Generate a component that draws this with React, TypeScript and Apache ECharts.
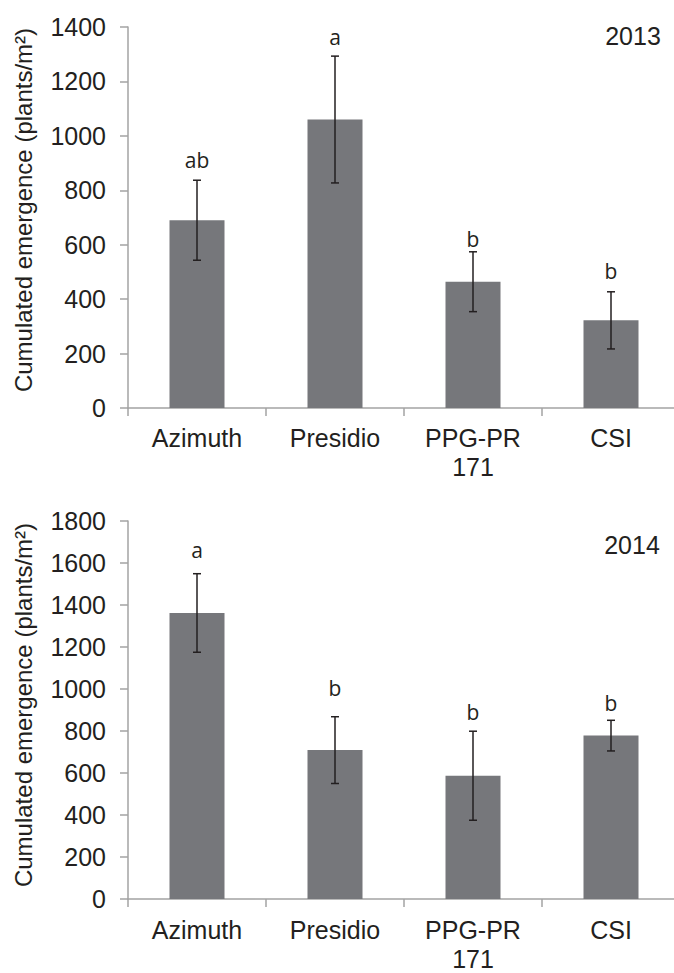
import React, { useEffect, useRef } from "react";
import * as echarts from "echarts";

const categories = ["Azimuth", "Presidio", "PPG-PR\n171", "CSI"];

const mean2013 = [690, 1060, 464, 322];
const err2013 = [147, 233, 110, 105];
const letters2013 = ["ab", "a", "b", "b"];
const letterPos2013 = [911, 1363, 621, 503];

const mean2014 = [1362, 709, 587, 778];
const err2014 = [187, 159, 212, 73];
const letters2014 = ["a", "b", "b", "b"];
const letterPos2014 = [1664, 1005, 891, 934];

const yTicks2013 = { min: 0, max: 1400, interval: 200 };
const yTicks2014 = { min: 0, max: 1800, interval: 200 };

const FONT = "'Liberation Sans', Arial, sans-serif";
const TXT = "#231f20";
const AXIS = "#a3a3a3";
const BAR = "#76777b";

function errorSeries(gi: number, means: number[], errs: number[]) {
  return {
    type: "custom",
    xAxisIndex: gi,
    yAxisIndex: gi,
    z: 5,
    data: means.map((m, i) => [i, m, errs[i]]),
    renderItem: (params: any, api: any) => {
      const i = api.value(0);
      const m = api.value(1);
      const e = api.value(2);
      const top = api.coord([i, m + e]);
      const bot = api.coord([i, m - e]);
      const hw = 4;
      const st = { stroke: TXT, lineWidth: 1.5 };
      return {
        type: "group",
        children: [
          { type: "line", shape: { x1: top[0], y1: top[1], x2: bot[0], y2: bot[1] }, style: st },
          { type: "line", shape: { x1: top[0] - hw, y1: top[1], x2: top[0] + hw, y2: top[1] }, style: st },
          { type: "line", shape: { x1: bot[0] - hw, y1: bot[1], x2: bot[0] + hw, y2: bot[1] }, style: st },
        ],
      };
    },
  };
}

function letterSeries(gi: number, pos: number[], letters: string[]) {
  return {
    type: "custom",
    xAxisIndex: gi,
    yAxisIndex: gi,
    z: 6,
    data: pos.map((p, i) => [i, p]),
    renderItem: (params: any, api: any) => {
      const i = api.value(0);
      const p = api.coord([i, api.value(1)]);
      return {
        type: "text",
        x: p[0],
        y: p[1],
        style: {
          text: letters[params.dataIndex],
          fill: TXT,
          font: "21px 'Open Sans', sans-serif",
          align: "center",
          verticalAlign: "middle",
        },
      };
    },
  };
}

export default function App() {
  const ref = useRef<HTMLDivElement>(null);
  useEffect(() => {
    if (!ref.current) return;
    const chart = echarts.init(ref.current, null, { renderer: "svg" });
    const xAxisBase = (gi: number, margin: number) => ({
      type: "category",
      gridIndex: gi,
      data: categories,
      axisLine: { show: true, lineStyle: { color: AXIS, width: 1.5 } },
      axisTick: { show: true, length: 8, lineStyle: { color: AXIS, width: 1.5 } },
      axisLabel: {
        interval: 0,
        margin,
        fontSize: 25,
        lineHeight: 29,
        fontFamily: FONT,
        color: TXT,
      },
      splitLine: { show: false },
    });
    const yAxisBase = (gi: number, t: any) => ({
      type: "value",
      gridIndex: gi,
      min: t.min,
      max: t.max,
      interval: t.interval,
      axisLine: { show: true, lineStyle: { color: AXIS, width: 1.5 } },
      axisTick: { show: true, length: 8, lineStyle: { color: AXIS, width: 1.5 } },
      axisLabel: {
        margin: 22,
        fontSize: 25,
        fontFamily: FONT,
        color: TXT,
        formatter: (v: number) => String(v),
      },
      splitLine: { show: false },
    });
    const yName = (y: number) => ({
      type: "text",
      x: 23,
      y,
      rotation: Math.PI / 2,
      style: {
        text: "Cumulated emergence (plants/m²)",
        fill: TXT,
        font: "24px 'Liberation Sans', Arial, sans-serif",
        align: "center",
        verticalAlign: "middle",
      },
    });
    const yearText = (txt: string, x: number, y: number) => ({
      type: "text",
      x,
      y,
      style: {
        text: txt,
        fill: TXT,
        font: "25px 'Liberation Sans', Arial, sans-serif",
        align: "center",
        verticalAlign: "middle",
      },
    });
    chart.setOption({
      animation: false,
      backgroundColor: "#ffffff",
      grid: [
        { left: 128, top: 27, width: 552, height: 381 },
        { left: 128, top: 521, width: 552, height: 381 },
      ],
      xAxis: [xAxisBase(0, 15), xAxisBase(1, 16)],
      yAxis: [yAxisBase(0, yTicks2013), yAxisBase(1, yTicks2014)],
      series: [
        {
          type: "bar",
          xAxisIndex: 0,
          yAxisIndex: 0,
          data: mean2013,
          barWidth: 55,
          itemStyle: { color: BAR },
        },
        errorSeries(0, mean2013, err2013),
        letterSeries(0, letterPos2013, letters2013),
        {
          type: "bar",
          xAxisIndex: 1,
          yAxisIndex: 1,
          data: mean2014,
          barWidth: 55,
          itemStyle: { color: BAR },
        },
        errorSeries(1, mean2014, err2014),
        letterSeries(1, letterPos2014, letters2014),
      ],
      graphic: [
        yName(210),
        yName(705),
        yearText("2013", 633, 36),
        yearText("2014", 632, 545),
      ],
    });
    return () => chart.dispose();
  }, []);
  return (
    <div
      style={{
        position: "fixed",
        left: 0,
        top: 0,
        width: 674,
        height: 973,
        overflow: "hidden",
        background: "#fff",
      }}
    >
      <div ref={ref} style={{ width: 690, height: 973 }} />
    </div>
  );
}
